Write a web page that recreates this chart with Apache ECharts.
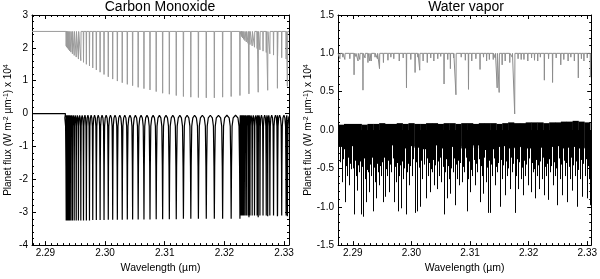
<!DOCTYPE html>
<html><head><meta charset="utf-8">
<script src="https://cdn.jsdelivr.net/npm/echarts/dist/echarts.min.js"></script>
<style>html,body{margin:0;padding:0;background:#fff}#c{width:600px;height:279px}</style>
</head><body><div id="c"></div><script>
const FONT = '"Liberation Sans", Arial, Helvetica, sans-serif';

// ---- axes ----
const xRangeCO = [2.28776, 2.33082];
const xRangeH2O = [2.28748, 2.33067];
const yRangeCO = [-4, 3];
const yRangeH2O = [-1.5, 1.5];
const xMajorTicks = [2.29, 2.30, 2.31, 2.32, 2.33];
const titles = ['Carbon Monoxide', 'Water vapor'];

// ---- Carbon monoxide: 2-0 band lines ----
const co20X = [2.29349, 2.29353, 2.29360, 2.29371, 2.29387, 2.29405, 2.29427, 2.29453, 2.29483, 2.29517,
  2.29554, 2.29594, 2.29639, 2.29687, 2.29739, 2.29794, 2.29854, 2.29917, 2.29983, 2.30054,
  2.30128, 2.30206, 2.30288, 2.30373, 2.30462, 2.30555, 2.30652, 2.30753, 2.30857, 2.30965,
  2.31077, 2.31193, 2.31313, 2.31437, 2.31564, 2.31696, 2.31831, 2.31970, 2.32113, 2.32260,
  2.32411, 2.32566, 2.32725, 2.32888, 2.33055];
const co20Gray = [2.06, 2.04, 2.02, 1.99, 1.95, 1.91, 1.87, 1.82, 1.77, 1.72,
  1.66, 1.61, 1.56, 1.50, 1.45, 1.39, 1.33, 1.26, 1.19, 1.12,
  1.05, 0.99, 0.94, 0.89, 0.85, 0.80, 0.76, 0.72, 0.67, 0.62,
  0.59, 0.55, 0.52, 0.50, 0.49, 0.48, 0.48, 0.50, 0.52, 0.55,
  0.60, 0.65, 0.71, 0.77, 0.83];
const co20Black = [-3.25, -3.25, -3.25, -3.25, -3.25, -3.25, -3.25, -3.25, -3.25, -3.25,
  -3.25, -3.25, -3.25, -3.25, -3.25, -3.24, -3.24, -3.24, -3.24, -3.23,
  -3.23, -3.23, -3.23, -3.22, -3.22, -3.22, -3.22, -3.22, -3.21, -3.21,
  -3.21, -3.21, -3.2, -3.2, -3.2, -3.2, -3.2, -3.2, -3.2, -3.2,
  -3.15, -3.15, -3.12, -3.12, -3.12];
// ---- Carbon monoxide: 3-1 band lines ----
const co31X = [2.32273, 2.32276, 2.32281, 2.32290, 2.32304, 2.32321, 2.32343, 2.32367, 2.32396, 2.32428,
  2.32465, 2.32504, 2.32548, 2.32595, 2.32647, 2.32701, 2.32761, 2.32823, 2.32890, 2.32960, 2.33034];
const co31Gray = [2.45, 2.42, 2.38, 2.34, 2.30, 2.26, 2.22, 2.18, 2.14, 2.10,
  2.06, 2.02, 1.98, 1.94, 1.90, 1.86, 1.82, 1.78, 1.74, 1.70, 1.66];
const co31Black = [-3.1, -3.1, -3.1, -3.1, -3.1, -3.1, -3.1, -3.1, -3.1, -3.1,
  -3.1, -3.1, -3.1, -3.1, -3.1, -3.1, -3.1, -3.1, -3.1, -3.1, -3.1];
const coGrayContinuum = 2.5;
const coBlackContinuum = 0;

// ---- Water vapour: gray (upper) spectrum ----
const h2oGrayContinuum = 1.0;
const h2oGrayX = [2.28781, 2.28865, 2.29022, 2.29090, 2.29174, 2.29259, 2.29315, 2.29456, 2.29523, 2.29793,
  2.29916, 2.30063, 2.30142, 2.30271, 2.30383, 2.30557, 2.30665, 2.30760, 2.30974, 2.31030,
  2.31171, 2.31283, 2.31396, 2.31463, 2.31497, 2.31548, 2.31678, 2.31762, 2.31873, 2.31986,
  2.32155, 2.32268, 2.32408, 2.32548, 2.32673, 2.32847, 2.32943, 2.33054,
  2.28830, 2.28950, 2.29050, 2.29120, 2.29210, 2.29290, 2.29380, 2.29420, 2.29600, 2.29650,
  2.29700, 2.29860, 2.29990, 2.30110, 2.30200, 2.30330, 2.30450, 2.30500, 2.30620, 2.30720,
  2.30850, 2.30920, 2.31100, 2.31230, 2.31330, 2.31430, 2.31600, 2.31720, 2.31820, 2.31920,
  2.32050, 2.32100, 2.32200, 2.32340, 2.32470, 2.32600, 2.32720, 2.32780, 2.32900, 2.33000];
const h2oGrayMin = [0.93, 0.92, 0.72, 0.90, 0.52, 0.88, 0.90, 0.80, 0.88, 0.90,
  0.55, 0.75, 0.78, 0.88, 0.90, 0.60, 0.80, 0.46, 0.53, 0.90,
  0.79, 0.90, 0.92, 0.55, 0.49, 0.85, 0.88, 0.21, 0.92, 0.90,
  0.90, 0.65, 0.62, 0.85, 0.90, 0.68, 0.90, 0.69,
  0.95, 0.93, 0.96, 0.92, 0.94, 0.90, 0.95, 0.93, 0.91, 0.95,
  0.93, 0.94, 0.92, 0.95, 0.90, 0.94, 0.93, 0.96, 0.92, 0.94,
  0.95, 0.91, 0.93, 0.95, 0.92, 0.94, 0.90, 0.95, 0.93, 0.92,
  0.94, 0.91, 0.95, 0.93, 0.94, 0.92, 0.95, 0.90, 0.93, 0.94];

// ---- Water vapour: black (lower) spectrum: dense band + lines ----
const h2oBandX = [2.288, 2.289, 2.290, 2.291, 2.292, 2.293, 2.294, 2.295, 2.296, 2.297,
  2.298, 2.299, 2.300, 2.301, 2.302, 2.303, 2.304, 2.305, 2.306, 2.307,
  2.308, 2.309, 2.310, 2.311, 2.312, 2.313, 2.314, 2.315, 2.316, 2.317,
  2.318, 2.319, 2.320, 2.321, 2.322, 2.323, 2.324, 2.325, 2.326, 2.327,
  2.328, 2.329, 2.330];
const h2oBandTop = [0.07, 0.08, 0.08, 0.08, 0.07, 0.08, 0.08, 0.09, 0.08, 0.08,
  0.09, 0.08, 0.09, 0.08, 0.08, 0.09, 0.09, 0.08, 0.09, 0.09,
  0.08, 0.09, 0.09, 0.08, 0.09, 0.09, 0.09, 0.08, 0.09, 0.10,
  0.09, 0.09, 0.10, 0.10, 0.10, 0.09, 0.10, 0.10, 0.11, 0.11,
  0.12, 0.11, 0.10];
const h2oBandBot = [-0.22, -0.25, -0.21, -0.24, -0.22, -0.23, -0.25, -0.26, -0.22, -0.20,
  -0.22, -0.24, -0.21, -0.23, -0.25, -0.22, -0.20, -0.24, -0.25, -0.22,
  -0.21, -0.24, -0.23, -0.20, -0.24, -0.26, -0.25, -0.22, -0.21, -0.24,
  -0.23, -0.22, -0.24, -0.21, -0.23, -0.25, -0.22, -0.21, -0.24, -0.23,
  -0.22, -0.24, -0.23];
const h2oLineX = [2.28753, 2.28809, 2.28865, 2.28904, 2.28938, 2.28978, 2.29022, 2.29051, 2.29073, 2.29107,
  2.29135, 2.29174, 2.29208, 2.29231, 2.29259, 2.29276, 2.29309, 2.29343, 2.29377, 2.29399,
  2.29433, 2.29455, 2.29484, 2.29512, 2.29557, 2.29590, 2.29624, 2.29658, 2.29709, 2.29737,
  2.29765, 2.29793, 2.29821, 2.29860, 2.29905, 2.29933, 2.29962, 2.30007, 2.30057, 2.30102,
  2.30141, 2.30186, 2.30243, 2.30276, 2.30310, 2.30344, 2.30383, 2.30439, 2.30479, 2.30513,
  2.30552, 2.30580, 2.30608, 2.30636, 2.30664, 2.30704, 2.30738, 2.30771, 2.30805, 2.30861,
  2.30901, 2.30946, 2.30974, 2.31002, 2.31041, 2.31086, 2.31126, 2.31170, 2.31199, 2.31227,
  2.31266, 2.31300, 2.31339, 2.31379, 2.31424, 2.31463, 2.31508, 2.31547, 2.31592, 2.31632,
  2.31677, 2.31716, 2.31761, 2.31789, 2.31817, 2.31862, 2.31901, 2.31941, 2.31986, 2.32042,
  2.32076, 2.32110, 2.32143, 2.32183, 2.32222, 2.32267, 2.32301, 2.32334, 2.32368, 2.32408,
  2.32447, 2.32492, 2.32531, 2.32576, 2.32616, 2.32661, 2.32700, 2.32745, 2.32784, 2.32829,
  2.32869, 2.32914, 2.32953, 2.32998, 2.33032, 2.33054];
const h2oLineMin = [-0.55, -0.68, -0.94, -0.60, -0.72, -0.51, -1.10, -0.60, -0.79, -0.55,
  -1.10, -1.13, -0.64, -0.94, -0.55, -0.81, -0.60, -1.06, -0.68, -0.89,
  -0.55, -0.72, -0.60, -0.94, -0.87, -0.60, -0.81, -0.55, -0.94, -0.68,
  -1.06, -0.60, -1.02, -0.64, -1.10, -0.55, -0.72, -0.60, -1.08, -1.06,
  -1.00, -0.64, -0.89, -0.60, -0.81, -0.55, -0.72, -0.77, -0.60, -0.68,
  -1.10, -0.55, -0.89, -0.64, -0.83, -0.55, -0.98, -0.64, -0.72, -0.68,
  -0.55, -1.06, -0.64, -0.81, -0.60, -0.72, -0.55, -0.94, -0.60, -0.83,
  -0.68, -1.08, -1.08, -0.60, -0.72, -0.55, -1.00, -0.64, -0.85, -0.60,
  -0.77, -0.55, -1.08, -0.60, -0.77, -0.64, -0.85, -0.60, -0.72, -0.81,
  -0.55, -0.89, -0.60, -0.77, -0.64, -0.85, -0.60, -0.91, -0.55, -0.72,
  -0.60, -0.98, -0.64, -0.85, -0.60, -0.94, -0.64, -0.79, -0.60, -1.00,
  -0.64, -0.87, -0.60, -0.89, -0.64, -0.98];
const h2oMidX = [2.28781, 2.28837, 2.28885, 2.28921, 2.28958, 2.29000, 2.29037, 2.29062, 2.29090, 2.29121,
  2.29155, 2.29191, 2.29220, 2.29245, 2.29268, 2.29292, 2.29326, 2.29360, 2.29388, 2.29416,
  2.29444, 2.29470, 2.29498, 2.29535, 2.29574, 2.29607, 2.29641, 2.29683, 2.29723, 2.29751,
  2.29779, 2.29807, 2.29840, 2.29882, 2.29919, 2.29947, 2.29984, 2.30032, 2.30080, 2.30122,
  2.30163, 2.30215, 2.30260, 2.30293, 2.30327, 2.30363, 2.30411, 2.30459, 2.30496, 2.30532,
  2.30566, 2.30594, 2.30622, 2.30650, 2.30684, 2.30721, 2.30755, 2.30788, 2.30833, 2.30881,
  2.30924, 2.30960, 2.30988, 2.31021, 2.31063, 2.31106, 2.31148, 2.31185, 2.31213, 2.31246,
  2.31283, 2.31320, 2.31359, 2.31401, 2.31443, 2.31485, 2.31527, 2.31569, 2.31612, 2.31654,
  2.31696, 2.31738, 2.31775, 2.31803, 2.31840, 2.31881, 2.31921, 2.31963, 2.32014, 2.32059,
  2.32093, 2.32126, 2.32163, 2.32202, 2.32244, 2.32284, 2.32318, 2.32351, 2.32388, 2.32427,
  2.32469, 2.32511, 2.32553, 2.32596, 2.32638, 2.32680, 2.32722, 2.32764, 2.32806, 2.32849,
  2.32891, 2.32933, 2.32975, 2.33015, 2.33043];
const h2oMidMin = [-0.42, -0.38, -0.47, -0.36, -0.44, -0.50, -0.40, -0.35, -0.46, -0.41,
  -0.48, -0.37, -0.43, -0.52, -0.39, -0.45, -0.36, -0.49, -0.41, -0.44,
  -0.38, -0.47, -0.42, -0.36, -0.51, -0.40, -0.45, -0.37, -0.48, -0.43,
  -0.39, -0.46, -0.41, -0.50, -0.36, -0.44, -0.47, -0.38, -0.42, -0.49,
  -0.40, -0.45, -0.37, -0.43, -0.51, -0.39, -0.46, -0.41, -0.36, -0.48,
  -0.44, -0.38, -0.47, -0.42, -0.50, -0.37, -0.45, -0.40, -0.43, -0.48,
  -0.36, -0.46, -0.41, -0.52, -0.39, -0.44, -0.38, -0.47, -0.42, -0.36,
  -0.49, -0.40, -0.45, -0.37, -0.48, -0.43, -0.39, -0.46, -0.41, -0.50,
  -0.36, -0.44, -0.47, -0.38, -0.42, -0.49, -0.40, -0.45, -0.37, -0.43,
  -0.51, -0.39, -0.46, -0.41, -0.36, -0.48, -0.44, -0.38, -0.47, -0.42,
  -0.50, -0.37, -0.45, -0.40, -0.43, -0.48, -0.36, -0.46, -0.41, -0.52,
  -0.39, -0.44, -0.38, -0.47, -0.42];

// ---------- build series data ----------
function spikeLine(xr, cont, xs, mins, hw) {
  const pts = xs.map((x, i) => [x, mins[i]]).sort((a, b) => a[0] - b[0]);
  const d = [[xr[0], cont]];
  pts.forEach(([x, m]) => { d.push([x - hw, cont], [x, m], [x + hw, cont]); });
  d.push([xr[1], cont]);
  return d;
}
const coGrayData = spikeLine(xRangeCO, coGrayContinuum, co20X.concat(co31X), co20Gray.concat(co31Gray), 0.00004);
const h2oGrayData = spikeLine(xRangeH2O, h2oGrayContinuum, h2oGrayX, h2oGrayMin, 0.00004);

const coLines = co20X.map((x, i) => [x, co20Black[i]]).concat(co31X.map((x, i) => [x, co31Black[i]])).sort((a, b) => a[0] - b[0]);
const coBlackData = [[xRangeCO[0], coBlackContinuum], [coLines[0][0] - 0.00012, coBlackContinuum]];
coLines.forEach(([c, m], i) => {
  const gl = i ? Math.min(c - coLines[i - 1][0], 0.0012) : 0.0008;
  const gr = i < coLines.length - 1 ? Math.min(coLines[i + 1][0] - c, 0.0012) : 0.0008;
  coBlackData.push([c - gl * 0.28, -0.13], [c - gl * 0.13, -0.38], [c - gl * 0.05, -1.6], [c, m],
    [c + gr * 0.05, -1.6], [c + gr * 0.13, -0.38], [c + gr * 0.28, -0.13]);
  if (i < coLines.length - 1) coBlackData.push([c + (coLines[i + 1][0] - c) / 2, -0.05]);
});
coBlackData.push([xRangeCO[1], -0.08]);

const h2oBandData = h2oBandX.map((x, i) => [x, h2oBandTop[i], h2oBandBot[i]]);
const h2oLineData = h2oLineX.map((x, i) => [x, 0, h2oLineMin[i]]).concat(h2oMidX.map((x, i) => [x, 0, h2oMidMin[i]]));

// ---------- axes ----------
const minorX = [];
for (let k = 2287; k <= 2331; k++) { if (k % 10 !== 0) minorX.push(k / 1000); }

function xAxes(gi, xr) {
  const base = { gridIndex: gi, type: 'value', min: xr[0], max: xr[1], splitLine: { show: false } };
  const line = { show: true, onZero: false, lineStyle: { color: '#000', width: 1 } };
  return [
    Object.assign({}, base, { position: 'bottom', axisLine: line,
      axisTick: { show: true, inside: true, length: 4, customValues: xMajorTicks, lineStyle: { color: '#000' } },
      axisLabel: { show: true, customValues: xMajorTicks, formatter: v => v.toFixed(2), color: '#000', fontSize: 10, fontFamily: FONT, margin: 3 },
      name: 'Wavelength (\u00b5m)', nameLocation: 'middle', nameGap: 16,
      nameTextStyle: { color: '#000', fontSize: 10.5, fontFamily: FONT } }),
    Object.assign({}, base, { position: 'bottom', axisLine: { show: false, onZero: false },
      axisTick: { show: true, inside: true, length: 2, customValues: minorX, lineStyle: { color: '#000' } },
      axisLabel: { show: false } }),
    Object.assign({}, base, { position: 'top', axisLine: line,
      axisTick: { show: true, inside: true, length: 4, customValues: xMajorTicks, lineStyle: { color: '#000' } },
      axisLabel: { show: false } }),
    Object.assign({}, base, { position: 'top', axisLine: { show: false, onZero: false },
      axisTick: { show: true, inside: true, length: 2, customValues: minorX, lineStyle: { color: '#000' } },
      axisLabel: { show: false } })
  ];
}
function yAxes(gi, yr, interval, digits) {
  const base = { gridIndex: gi, type: 'value', min: yr[0], max: yr[1], interval: interval, splitLine: { show: false },
    axisLine: { show: true, onZero: false, lineStyle: { color: '#000', width: 1 } },
    axisTick: { show: true, inside: true, length: 4, lineStyle: { color: '#000' } },
    minorTick: { show: true, splitNumber: 5, length: 2, lineStyle: { color: '#000' } } };
  return [
    Object.assign({}, base, { position: 'left',
      axisLabel: { show: true, formatter: v => v.toFixed(digits), color: '#000', fontSize: 10, fontFamily: FONT, margin: 4 },
      name: 'Planet flux (W m{s|-2} \u00b5m{s|-1}) x 10{s|4}', nameLocation: 'middle', nameRotate: 90, nameGap: 19,
      nameTextStyle: { color: '#000', fontSize: 10, fontFamily: FONT,
        rich: { s: { fontSize: 7, verticalAlign: 'top', fontFamily: FONT, color: '#000' } } } }),
    Object.assign({}, base, { position: 'right', axisLabel: { show: false } })
  ];
}

const rectItem = color => function (params, api) {
  const x = api.value(0), t = api.value(1), b = api.value(2);
  const p1 = api.coord([x - 0.0005, t]), p2 = api.coord([x + 0.0005, b]);
  return { type: 'rect', shape: { x: p1[0], y: p1[1], width: p2[0] - p1[0] + 0.3, height: p2[1] - p1[1] }, style: { fill: color } };
};
const vlineItem = color => function (params, api) {
  const x = api.value(0), t = api.value(1), b = api.value(2);
  const p1 = api.coord([x, t]), p2 = api.coord([x, b]);
  const px = Math.round(p1[0]) + 0.5;
  return { type: 'line', shape: { x1: px, y1: p1[1], x2: px, y2: p2[1] }, style: { stroke: color, lineWidth: 1 } };
};

const chart = echarts.init(document.getElementById('c'), null, { renderer: 'canvas' });
chart.setOption({
  animation: false,
  textStyle: { fontFamily: FONT },
  grid: [
    { left: 32, top: 15, width: 257, height: 236, containLabel: false },
    { left: 338, top: 15, width: 256, height: 236, containLabel: false }
  ],
  xAxis: xAxes(0, xRangeCO).concat(xAxes(1, xRangeH2O)),
  yAxis: yAxes(0, yRangeCO, 1, 0).concat(yAxes(1, yRangeH2O, 0.5, 1)),
  graphic: [
    { type: 'text', x: 160, y: 7, style: { text: titles[0], textAlign: 'center', textVerticalAlign: 'middle', font: '14px ' + FONT, fill: '#000' } },
    { type: 'text', x: 466, y: 7, style: { text: titles[1], textAlign: 'center', textVerticalAlign: 'middle', font: '14px ' + FONT, fill: '#000' } }
  ],
  series: [
    { type: 'line', xAxisIndex: 0, yAxisIndex: 0, data: coGrayData, showSymbol: false, symbol: 'none',
      lineStyle: { color: '#9a9a9a', width: 1 }, sampling: null, clip: true, z: 2 },
    { type: 'line', xAxisIndex: 0, yAxisIndex: 0, data: coBlackData, showSymbol: false, symbol: 'none',
      lineStyle: { color: '#000', width: 1.2 }, clip: true, z: 3 },
    { type: 'line', xAxisIndex: 4, yAxisIndex: 2, data: h2oGrayData, showSymbol: false, symbol: 'none',
      lineStyle: { color: '#8c8c8c', width: 1 }, clip: true, z: 2 },
    { type: 'custom', xAxisIndex: 4, yAxisIndex: 2, data: h2oBandData, renderItem: rectItem('#000'), clip: true, z: 3 },
    { type: 'custom', xAxisIndex: 4, yAxisIndex: 2, data: h2oLineData, renderItem: vlineItem('#000'), clip: true, z: 3 }
  ]
});
</script></body></html>
